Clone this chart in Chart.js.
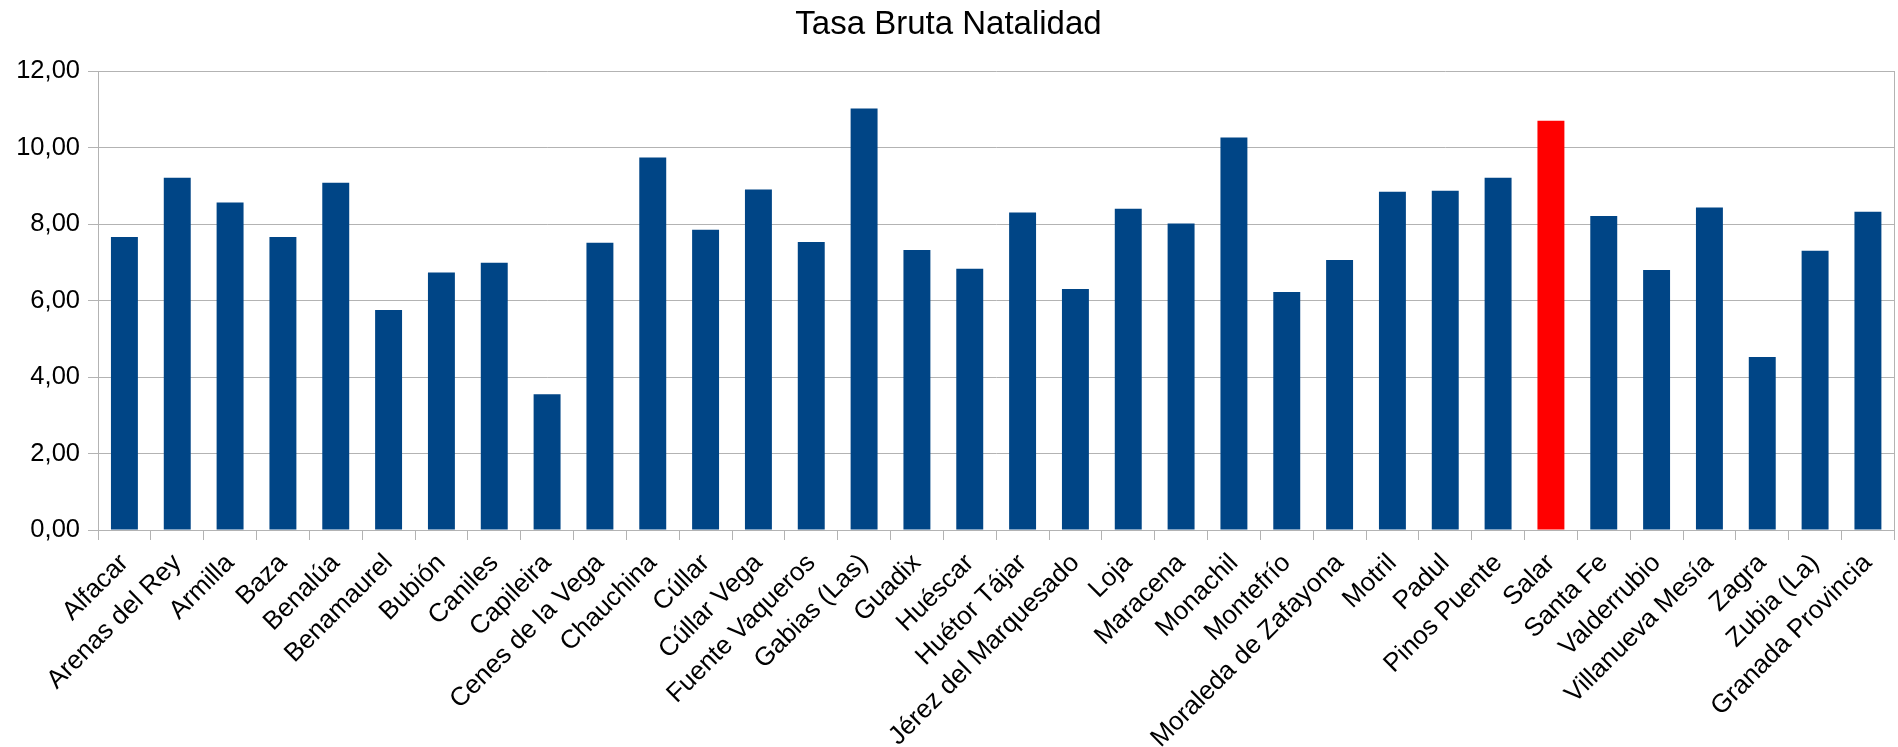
<!DOCTYPE html>
<html>
<head>
<meta charset="utf-8">
<script src="https://cdn.jsdelivr.net/npm/chart.js@4/dist/chart.umd.min.js"></script>
<style>
  html, body { margin: 0; padding: 0; background: #ffffff; }
  #wrap { width: 1898px; height: 747px; position: relative; }
</style>
</head>
<body>
<div id="wrap"><canvas id="c"></canvas></div>
<script>
const chartTitle = 'Tasa Bruta Natalidad';
const categories = [
  'Alfacar', 'Arenas del Rey', 'Armilla', 'Baza', 'Benalúa', 'Benamaurel', 'Bubión',
  'Caniles', 'Capileira', 'Cenes de la Vega', 'Chauchina', 'Cúllar', 'Cúllar Vega',
  'Fuente Vaqueros', 'Gabias (Las)', 'Guadix', 'Huéscar', 'Huétor Tájar',
  'Jérez del Marquesado', 'Loja', 'Maracena', 'Monachil', 'Montefrío',
  'Moraleda de Zafayona', 'Motril', 'Padul', 'Pinos Puente', 'Salar', 'Santa Fe',
  'Valderrubio', 'Villanueva Mesía', 'Zagra', 'Zubia (La)', 'Granada Provincia'
];
const values = [
  7.66, 9.21, 8.56, 7.66, 9.08, 5.75, 6.73,
  6.99, 3.55, 7.51, 9.74, 7.85, 8.90,
  7.53, 11.02, 7.32, 6.83, 8.30,
  6.30, 8.40, 8.01, 10.26, 6.22,
  7.06, 8.84, 8.87, 9.21, 10.70, 8.21,
  6.80, 8.43, 4.52, 7.30, 8.32
];
const highlighted = ['Salar'];
const yTickValues = [0, 2, 4, 6, 8, 10, 12];
const yTickLabels = ['0,00', '2,00', '4,00', '6,00', '8,00', '10,00', '12,00'];

const BLUE = '#004586';
const RED = '#ff0000';
const GRID = '#b3b3b3';
const FONT = "'Liberation Sans', Arial, sans-serif";

const barColors = categories.map(c => highlighted.includes(c) ? RED : BLUE);

Chart.defaults.font.family = FONT;
Chart.defaults.color = '#000000';

new Chart(document.getElementById('c'), {
  type: 'bar',
  data: {
    labels: categories,
    datasets: [{
      label: chartTitle,
      data: values,
      backgroundColor: barColors,
      borderWidth: 0,
      barPercentage: 0.51,
      categoryPercentage: 1.0
    }]
  },
  options: {
    responsive: true,
    maintainAspectRatio: false,
    devicePixelRatio: 1,
    animation: false,
    layout: { padding: { left: 0, right: 1, top: 0, bottom: 0 } },
    plugins: {
      legend: { display: false },
      tooltip: { enabled: false },
      title: {
        display: true,
        text: chartTitle,
        color: '#000000',
        font: { size: 33, weight: 'normal', family: FONT, lineHeight: 1.2 },
        padding: { top: 4.8, bottom: 26.6 }
      }
    },
    scales: {
      x: {
        offset: true,
        grid: {
          offset: true,
          drawOnChartArea: true,
          drawTicks: true,
          tickLength: 10,
          tickColor: GRID,
          color: (ctx) => (ctx.type === 'scale' ? GRID : 'rgba(0,0,0,0)'),
          lineWidth: 1
        },
        border: { display: true, color: GRID, width: 1 },
        ticks: {
          autoSkip: false,
          maxRotation: 45,
          minRotation: 45,
          padding: 8,
          color: '#000000',
          font: { size: 26, family: FONT }
        },
        afterFit: (scale) => { scale.height = 217; }
      },
      y: {
        min: 0,
        max: 12,
        afterBuildTicks: (scale) => { scale.ticks = yTickValues.map(v => ({ value: v })); },
        grid: {
          color: GRID,
          lineWidth: 1,
          drawTicks: true,
          tickLength: 10,
          tickColor: GRID
        },
        border: { display: true, color: GRID, width: 1 },
        ticks: {
          padding: 8,
          color: '#000000',
          font: { size: 25.5, family: FONT },
          callback: (value) => {
            const i = yTickValues.indexOf(value);
            return i >= 0 ? yTickLabels[i] : '';
          }
        },
        afterFit: (scale) => { scale.width = 98; }
      }
    }
  }
});
</script>
</body>
</html>
